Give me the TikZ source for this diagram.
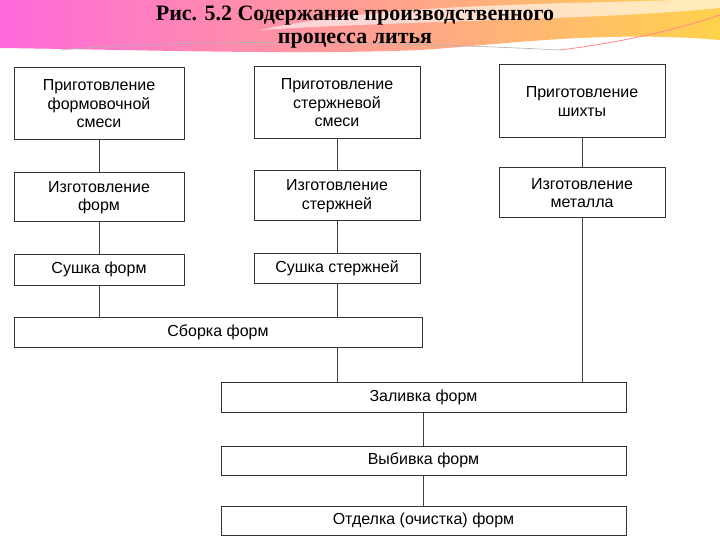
\documentclass[tikz,border=0pt]{standalone}
\usepackage{fontspec}
\setmainfont{Liberation Sans}
\newfontfamily\titlefont{Liberation Serif}
\begin{document}
\begin{tikzpicture}[x=1pt,y=-1pt,
  bx/.style={draw=black!80,line width=1pt,fill=white,align=center,font=\fontsize{16}{18.5}\selectfont,inner sep=0pt},
  ln/.style={draw=black!75,line width=1pt}]
\useasboundingbox (0,0) rectangle (720,540);
\fill[white] (0,0) rectangle (720,540);
% banner
\shade[left color=magenta!45!pink, right color=orange!50!yellow!70] (0,0) -- (720,0) -- (720,40) .. controls (600,30) and (500,45) .. (420,50) .. controls (300,55) and (150,50) .. (0,48) -- cycle;
\fill[white,opacity=0.6] (260,30) .. controls (400,0) and (600,5) .. (720,-2) -- (720,8) .. controls (600,20) and (420,20) .. (260,30) -- cycle;
\draw[gray!60,line width=0.6pt] (60,50) .. controls (200,38) and (400,42) .. (560,50);
\draw[pink!70!red,line width=0.8pt] (560,50) .. controls (640,40) and (690,25) .. (720,15);
\node[font=\titlefont\bfseries\fontsize{22}{23}\selectfont,align=center] (t) at (355,27) {Рис. 5.2 Содержание производственного\\процесса литья};
% boxes
\node[bx,minimum width=170,minimum height=72] (a1) at (99,104) {Приготовление\\формовочной\\смеси};
\node[bx,minimum width=170,minimum height=49] (a2) at (99,197.5) {Изготовление\\форм};
\node[bx,minimum width=170,minimum height=31] (a3) at (99,269.5) {Сушка форм};
\node[bx,minimum width=166,minimum height=72] (b1) at (337,103) {Приготовление\\стержневой\\смеси};
\node[bx,minimum width=166,minimum height=50] (b2) at (337,196) {Изготовление\\стержней};
\node[bx,minimum width=166,minimum height=30] (b3) at (337,268) {Сушка стержней};
\node[bx,minimum width=166,minimum height=73] (c1) at (582,101.5) {Приготовление\\шихты};
\node[bx,minimum width=166,minimum height=50] (c2) at (582,193) {Изготовление\\металла};
\node[bx,minimum width=408,minimum height=30] (s) at (218,332) {Сборка форм};
\node[bx,minimum width=405,minimum height=30] (z) at (423.5,397) {Заливка форм};
\node[bx,minimum width=405,minimum height=29] (v) at (423.5,460.5) {Выбивка форм};
\node[bx,minimum width=405,minimum height=29] (o) at (423.5,520.5) {Отделка (очистка) форм};
% connectors
\draw[ln] (a1) -- (a2); \draw[ln] (a2) -- (a3); \draw[ln] (a3) -- (a3 |- s.north);
\draw[ln] (b1) -- (b2); \draw[ln] (b2) -- (b3); \draw[ln] (b3) -- (b3 |- s.north);
\draw[ln] (c1) -- (c2); \draw[ln] (c2.south) -- (c2.south |- z.north);
\draw[ln] (s.south -| b3) -- (z.north -| b3);
\draw[ln] (z) -- (v); \draw[ln] (v) -- (o);
\end{tikzpicture}
\end{document}
